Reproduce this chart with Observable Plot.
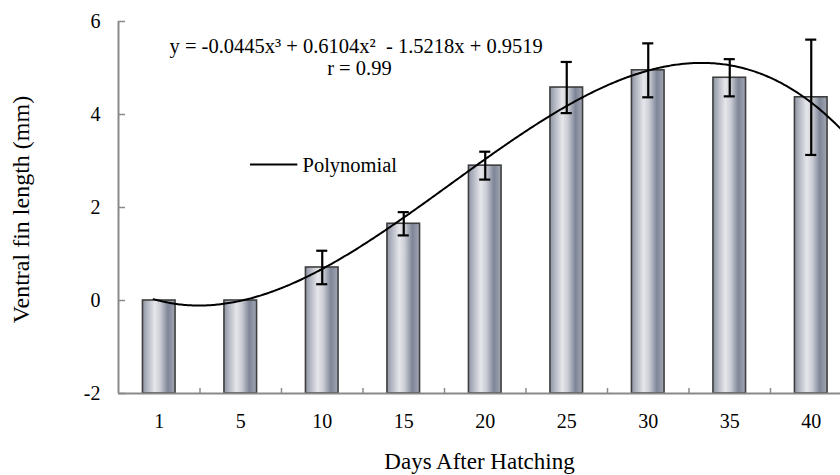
<!DOCTYPE html>
<html>
<head>
<meta charset="utf-8">
<script src="https://cdn.jsdelivr.net/npm/d3@7"></script>
<script src="https://cdn.jsdelivr.net/npm/@observablehq/plot@0.6"></script>
<style>
  html, body { margin: 0; padding: 0; background: #fff; }
  #chart svg { display: block; }
  #chart svg, #chart svg text { font-family: "Liberation Serif", "Times New Roman", serif !important; }
</style>
</head>
<body>
<div id="chart"></div>
<script>
// ---- data ----
const days = ["1", "5", "10", "15", "20", "25", "30", "35", "40"];
const lengths = [0, 0, 0.71, 1.65, 2.9, 4.58, 4.95, 4.79, 4.37];
const errors = [0, 0, 0.36, 0.25, 0.3, 0.55, 0.58, 0.4, 1.24];
const yTicks = [-2, 0, 2, 4, 6];
// polynomial trendline coefficients (x^3, x^2, x, 1), x = category index
const coeffs = [-0.0445, 0.6104, -1.5218, 0.9519];
const equationText = "y = -0.0445x\u00B3 + 0.6104x\u00B2  - 1.5218x + 0.9519";
const rText = "r = 0.99";
const legendText = "Polynomial";
const xTitle = "Days After Hatching";
const yTitle = "Ventral fin length (mm)";

// ---- derived tables ----
const bars = days.map((d, k) => ({ i: k + 1, day: d, v: lengths[k], e: errors[k] }));
const errBars = bars.filter(d => d.e > 0);
const poly = x => ((coeffs[0] * x + coeffs[1]) * x + coeffs[2]) * x + coeffs[3];
const curve = d3.range(0.93, 9.5, 0.02).map(x => ({ x, y: poly(x) }));

const font = "Liberation Serif";
const axisGray = "#8a8a8a";
const halfBar = 0.2;
const halfCap = 0.068;

const defs = () => {
  const ns = "http://www.w3.org/2000/svg";
  const g = document.createElementNS(ns, "defs");
  g.innerHTML = `
    <linearGradient id="barGrad" x1="0" y1="0" x2="1" y2="0">
      <stop offset="0" stop-color="#8e94a3"/>
      <stop offset="0.15" stop-color="#b3b7c2"/>
      <stop offset="0.38" stop-color="#e6e7eb"/>
      <stop offset="0.55" stop-color="#c9ccd4"/>
      <stop offset="0.78" stop-color="#7e8597"/>
      <stop offset="1" stop-color="#a2a7b3"/>
    </linearGradient>`;
  return g;
};

const chart = Plot.plot({
  width: 840,
  height: 475,
  marginLeft: 118,
  marginRight: 0,
  marginTop: 21,
  marginBottom: 82,
  style: { fontFamily: font, background: "#fff", color: "#000" },
  x: { type: "linear", domain: [0.5, 9.359], axis: null },
  y: { domain: [-2, 6], axis: null },
  marks: [
    defs,
    // bars
    Plot.rectY(bars, {
      x1: d => d.i - halfBar, x2: d => d.i + halfBar,
      y1: -2, y2: "v",
      fill: "url(#barGrad)", stroke: "#3e3e3e", strokeWidth: 1.6
    }),
    // axes lines
    Plot.ruleY([-2], { stroke: axisGray, strokeWidth: 2 }),
    Plot.ruleX([0.5], { y1: -2, y2: 6, stroke: axisGray, strokeWidth: 2 }),
    // y ticks (inward) and labels
    Plot.axisY({ ticks: yTicks, tickSize: 7, dx: 7, stroke: axisGray, strokeWidth: 1.5, tickFormat: () => "", label: null }),
    Plot.axisY({ ticks: yTicks, tickSize: 0, tickPadding: 18, fontSize: 20, fontFamily: font, fill: "#000", label: null,
      tickFormat: d => String(d).replace("\u2212", "-") }),
    // x ticks between categories (inward) and labels
    Plot.axisX({ ticks: d3.range(1.5, 9, 1), tickSize: 5, dy: -5, stroke: axisGray, strokeWidth: 1.5, tickFormat: () => "", label: null }),
    Plot.axisX({ ticks: bars.map(d => d.i), tickSize: 0, tickPadding: 20, fontSize: 20, fontFamily: font, fill: "#000", label: null,
      tickFormat: i => days[i - 1] }),
    // trendline
    Plot.line(curve, { x: "x", y: "y", stroke: "#000", strokeWidth: 2, clip: "frame" }),
    // error bars
    Plot.ruleX(errBars, { x: "i", y1: d => d.v - d.e, y2: d => d.v + d.e, stroke: "#000", strokeWidth: 2.2 }),
    Plot.ruleY(errBars, { y: d => d.v + d.e, x1: d => d.i - halfCap, x2: d => d.i + halfCap, stroke: "#000", strokeWidth: 2.2 }),
    Plot.ruleY(errBars, { y: d => d.v - d.e, x1: d => d.i - halfCap, x2: d => d.i + halfCap, stroke: "#000", strokeWidth: 2.2 }),
    // equation annotation
    Plot.text([equationText], { x: 1.126, y: 5.47, text: d => d, fontSize: 20.5, fontFamily: font, textAnchor: "start", fill: "#000" }),
    Plot.text([rText], { x: 3.06, y: 4.98, text: d => d, fontSize: 20.5, fontFamily: font, textAnchor: "start", fill: "#000" }),
    // legend
    Plot.ruleY([2.925], { x1: 2.12, x2: 2.70, stroke: "#000", strokeWidth: 2 }),
    Plot.text([legendText], { x: 2.758, y: 2.91, text: d => d, fontSize: 20.5, fontFamily: font, textAnchor: "start", fill: "#000" }),
    // titles
    Plot.text([xTitle], { frameAnchor: "bottom", textAnchor: "middle", lineAnchor: "middle", dy: 68, text: d => d, fontSize: 23, fontFamily: font, fill: "#000" }),
    Plot.text([yTitle], { frameAnchor: "left", textAnchor: "middle", lineAnchor: "middle", dx: -97, dy: 2, rotate: -90, text: d => d, fontSize: 24, fontFamily: font, fill: "#000" })
  ]
});

document.getElementById("chart").appendChild(chart);
</script>
</body>
</html>
